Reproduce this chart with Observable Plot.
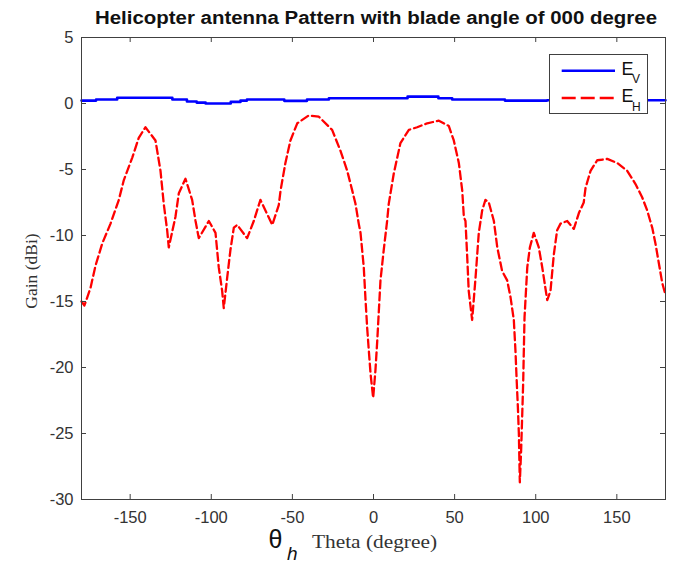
<!DOCTYPE html>
<html><head><meta charset="utf-8">
<script src="https://cdn.jsdelivr.net/npm/d3@7"></script>
<script src="https://cdn.jsdelivr.net/npm/@observablehq/plot@0.6"></script>
<style>body{margin:0;background:#fff}</style>
</head><body><div id="chart"></div>
<script>
const titleText = "Helicopter antenna Pattern with blade angle of 000 degree";
const yLabel = "Gain (dBi)";
const xLabelSymbol = "θ";
const xLabelSub = "h";
const xLabelText = "Theta (degree)";
const xTicks = [-150, -100, -50, 0, 50, 100, 150];
const yTicks = [-30, -25, -20, -15, -10, -5, 0, 5];
const seriesBase = ["E", "E"];
const seriesSub = ["V", "H"];

const evTheta = [-180, -171, -158, -124, -115, -109, -103.5, -88, -82, -78, -55, -41, -27.5, 21, 40, 48.5, 81, 107, 180];
const evGain  = [0.22, 0.3, 0.43, 0.3, 0.15, 0.07, 0.0, 0.12, 0.22, 0.3, 0.2, 0.3, 0.4, 0.52, 0.4, 0.3, 0.22, 0.25, 0.25];

const ehTheta = [-180,-178.2,-174.5,-171.4,-167.2,-162.1,-157,-153.9,-148.7,-144.7,
  -140.6,-134.4,-131.3,-129.3,-127.2,-126.2,-122.1,-120,-115.9,-111.8,
  -109.7,-107.7,-101.5,-97.4,-95.4,-93.3,-92.3,-90.2,-88.2,-86.1,
  -84,-77.9,-73.8,-69.7,-62.4,-58.4,-57.3,-54.3,-51.2,-47,
  -39.9,-33.7,-25.5,-20.3,-16.2,-13.1,-11.1,-9.1,-8,-6,
  -4.9,-3.9,-2.9,-1.8,-0.2,1.2,2.3,3.3,4.3,6.3,
  8.4,9.4,12.5,16.6,21.8,26.9,33.1,40.3,46.4,49.5,
  52.6,54.7,55.7,56.7,57.8,58.7,60.8,62.9,64.9,67,
  69,71.1,74.2,76.3,79.3,82.4,84.5,86.5,87.5,88.2,
  89,89.6,90.2,91,91.7,92.3,92.7,93.1,93.9,94.8,
  96.4,98.8,101.9,104,107.1,109.1,111.2,113.2,115.3,119.4,
  123.5,126.6,129.6,130.7,133.8,137.9,144.1,150.2,156.4,161.5,
  165.6,168.7,171.8,173.8,175.9,178,180];
const ehGain = [-15.0,-15.3,-14.0,-12.3,-10.6,-9.1,-7.3,-5.8,-4.1,-2.6,
  -1.8,-2.8,-5.1,-7.6,-9.6,-10.9,-8.6,-6.8,-5.7,-7.3,
  -8.9,-10.2,-8.9,-9.8,-12.4,-14.2,-15.5,-13.2,-11.1,-9.4,
  -9.2,-10.2,-8.9,-7.3,-9.2,-7.7,-6.6,-4.5,-2.8,-1.5,
  -0.9,-1.0,-2.0,-3.6,-5.1,-6.6,-7.6,-9.1,-9.8,-12.4,
  -14.9,-17.0,-18.7,-20.5,-22.3,-20.2,-18.0,-15.7,-13.4,-11.1,
  -8.9,-7.6,-5.3,-3.0,-2.0,-1.8,-1.5,-1.3,-1.7,-2.8,
  -4.5,-6.6,-8.6,-8.9,-11.7,-14.2,-16.4,-13.2,-9.8,-8.1,
  -7.3,-7.5,-8.9,-10.9,-12.7,-13.4,-14.7,-16.4,-18.7,-20.8,
  -23.0,-25.0,-28.7,-26.3,-23.5,-21.0,-18.5,-16.2,-14.4,-12.4,
  -10.9,-9.8,-10.9,-12.4,-14.9,-14.2,-11.4,-9.6,-9.1,-8.9,
  -9.5,-8.3,-7.5,-6.4,-5.1,-4.3,-4.2,-4.5,-5.1,-6.1,
  -7.1,-8.1,-9.4,-10.6,-12.1,-13.6,-14.5];

const ev = evTheta.map((t, i) => ({theta: t, gain: evGain[i]}));
const eh = ehTheta.map((t, i) => ({theta: t, gain: ehGain[i]}));

const W = 692, H = 563;
const mL = 81, mR = 27, mT = 37, mB = 64;
const plotW = W - mL - mR, plotH = H - mT - mB;
const tick = 5;
const axisColor = "#404040";
const textColor = "#333333";
const sans = "'Liberation Sans', Arial, Helvetica, sans-serif";
const serif = "'Liberation Serif', 'Times New Roman', serif";

const chart = Plot.plot({
  width: W, height: H,
  marginLeft: mL, marginRight: mR, marginTop: mT, marginBottom: mB,
  style: {fontFamily: sans, background: "#fff"},
  x: {domain: [-180, 180]},
  y: {domain: [-30, 5]},
  marks: [
    Plot.line(ev, {x: "theta", y: "gain", stroke: "#0000ff", strokeWidth: 2.6, curve: "step-after"}),
    Plot.line(eh, {x: "theta", y: "gain", stroke: "#ff0000", strokeWidth: 2.3, strokeDasharray: "8,4"}),
    Plot.ruleX(xTicks, {stroke: axisColor, insetTop: plotH - tick}),
    Plot.ruleX(xTicks, {stroke: axisColor, insetBottom: plotH - tick}),
    Plot.ruleY(yTicks, {stroke: axisColor, insetRight: plotW - tick}),
    Plot.ruleY(yTicks, {stroke: axisColor, insetLeft: plotW - tick}),
    Plot.frame({stroke: axisColor, strokeWidth: 1}),
    Plot.axisX({ticks: xTicks, tickSize: 0, tickPadding: 12, fontSize: 16.5, fill: textColor, label: null, tickFormat: d => String(d)}),
    Plot.axisY({ticks: yTicks, tickSize: 0, tickPadding: 8, fontSize: 16.5, fill: textColor, label: null, tickFormat: d => String(d)})
  ]
});
document.getElementById("chart").appendChild(chart);

const svg = d3.select(chart);
// title
svg.append("text").attr("x", 376).attr("y", 24.3).attr("text-anchor", "middle")
  .attr("font-family", sans).attr("font-weight", "bold").attr("font-size", 18)
  .attr("fill", "#111").attr("textLength", 562).attr("lengthAdjust", "spacingAndGlyphs")
  .text(titleText);
// y label
svg.append("text").attr("transform", "translate(36.7,271) rotate(-90)").attr("text-anchor", "middle")
  .attr("font-family", serif).attr("font-size", 17.5).attr("fill", textColor).text(yLabel);
// x label
svg.append("text").attr("x", 268.5).attr("y", 548).attr("text-anchor", "start").attr("font-family", sans).attr("font-size", 25)
  .attr("fill", "#111").text(xLabelSymbol);
svg.append("text").attr("x", 287).attr("y", 560).attr("text-anchor", "start").attr("font-family", sans).attr("font-style", "italic")
  .attr("font-size", 19).attr("fill", "#111").text(xLabelSub);
svg.append("text").attr("x", 312).attr("y", 548).attr("text-anchor", "start").attr("font-family", serif).attr("font-size", 18)
  .attr("fill", textColor).attr("textLength", 125).attr("lengthAdjust", "spacingAndGlyphs").text(xLabelText);
// legend
const lg = svg.append("g");
lg.append("rect").attr("x", 549.5).attr("y", 54.5).attr("width", 98).attr("height", 59)
  .attr("fill", "#fff").attr("stroke", axisColor).attr("stroke-width", 1);
const entries = [
  {y: 70.7, stroke: "#0000ff", dash: null, base: seriesBase[0], sub: seriesSub[0]},
  {y: 98, stroke: "#ff0000", dash: "14,5", base: seriesBase[1], sub: seriesSub[1]}
];
entries.forEach(e => {
  lg.append("line").attr("x1", 561.7).attr("x2", 615).attr("y1", e.y).attr("y2", e.y)
    .attr("stroke", e.stroke).attr("stroke-width", 2.4).attr("stroke-dasharray", e.dash);
  lg.append("text").attr("x", 621.5).attr("y", e.y + 4).attr("text-anchor", "start").attr("font-family", sans).attr("font-size", 18)
    .attr("fill", "#111").text(e.base);
  lg.append("text").attr("x", 632).attr("y", e.y + 12.5).attr("text-anchor", "start").attr("font-family", sans).attr("font-size", 12)
    .attr("fill", "#111").text(e.sub);
});
</script>
</body></html>
